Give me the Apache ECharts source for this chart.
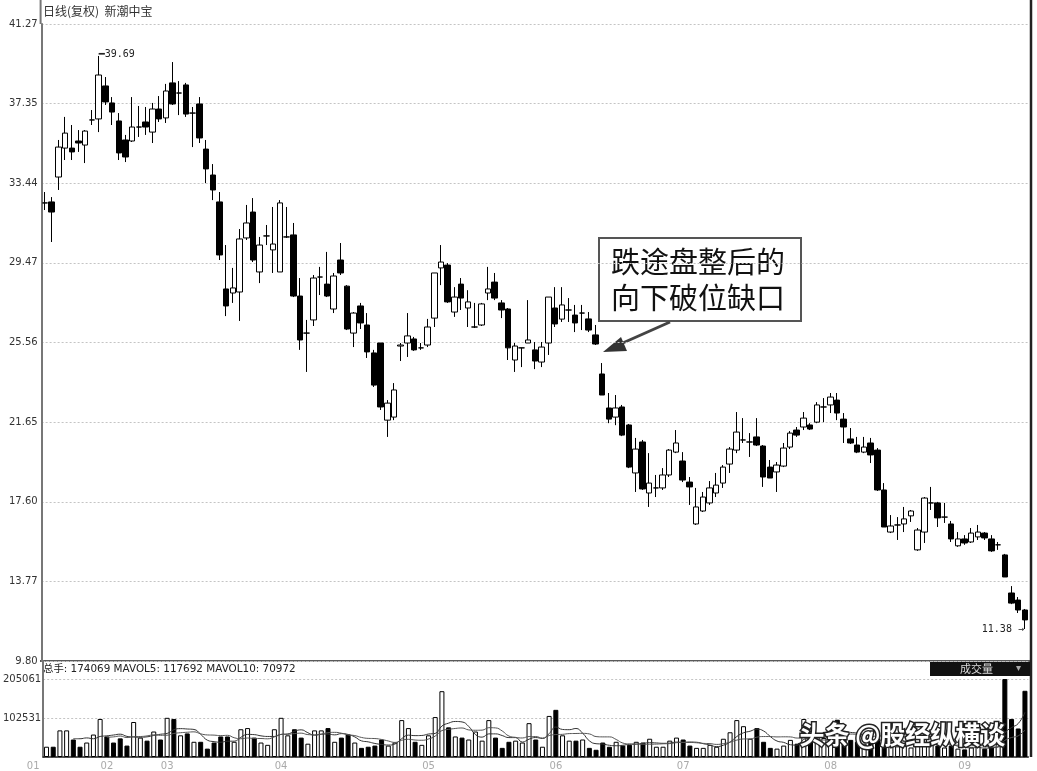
<!DOCTYPE html>
<html><head><meta charset="utf-8">
<script src="https://cdn.jsdelivr.net/npm/echarts@6/dist/echarts.min.js"></script>
<style>html,body{margin:0;padding:0;background:#fff}#c{width:1037px;height:771px}</style>
</head><body><div id="c"></div>
<script>
const priceTicks = ['9.80','13.77','17.60','21.65','25.56','29.47','33.44','37.35','41.27'];
const volTickLabels = ['102531','205061'];
const monthLabels = ['01','02','03','04','05','06','07','08','09'];
const monthStarts = [0,11,20,37,59,78,97,119,139];
const opens = [32.43,32.48,33.71,35.14,35.14,35.49,35.29,36.53,36.58,38.21,37.37,36.48,35.54,35.49,36.18,36.43,35.93,37.07,36.63,38.36,37.86,38.26,36.87,37.32,35.09,33.81,32.48,28.18,27.98,28.03,30.70,31.98,29.02,30.80,30.11,29.02,30.75,30.85,27.83,26.00,26.65,28.77,28.42,27.19,29.61,28.32,26.00,27.34,26.40,25.02,25.51,21.70,21.85,25.36,25.51,25.71,25.27,25.41,26.74,29.22,29.36,27.04,28.42,27.24,26.30,26.40,27.98,28.52,27.49,27.19,24.67,25.27,25.51,25.17,24.57,25.51,27.24,26.69,27.14,26.89,26.99,26.70,25.91,23.98,22.30,21.85,22.35,21.46,19.09,20.62,18.10,18.35,18.35,18.99,20.12,19.68,18.64,16.57,17.21,17.61,18.10,18.59,19.53,20.22,20.72,20.62,20.87,20.42,19.38,19.14,19.43,20.37,21.21,21.36,21.46,21.60,22.35,22.45,22.69,21.75,20.77,20.47,20.12,20.57,20.22,18.25,16.17,16.52,16.57,16.97,15.29,16.17,17.61,17.61,16.91,16.57,15.49,15.83,15.68,15.93,16.12,15.83,15.54,15.04,13.16,12.81,12.32];
const closes = [32.43,31.98,35.19,35.88,34.95,35.39,35.98,36.53,38.75,37.42,36.92,34.90,34.70,36.18,36.18,36.18,37.07,36.58,37.96,37.32,37.86,36.82,36.87,35.64,34.11,33.07,29.86,27.34,28.23,30.65,31.44,29.61,30.35,30.80,30.40,32.43,30.75,27.83,25.66,26.00,28.72,28.77,27.83,28.82,28.97,26.20,26.99,26.50,25.07,23.43,22.35,22.54,23.19,25.41,25.86,25.17,25.27,26.30,28.97,29.51,27.54,27.78,27.73,27.54,26.30,27.44,28.18,27.73,27.14,25.27,25.36,25.27,25.66,24.62,25.31,27.78,26.45,27.39,27.14,26.50,26.99,26.15,25.46,22.94,21.75,22.30,20.96,19.38,20.27,18.30,18.59,18.35,18.99,20.22,20.57,18.74,18.40,17.41,17.90,18.35,18.49,19.38,20.27,21.11,20.72,20.62,20.47,18.89,18.84,19.48,20.32,21.06,20.96,21.80,21.26,22.45,22.35,22.84,22.05,21.36,20.57,20.12,20.37,19.98,18.25,16.42,16.47,16.52,16.82,17.21,16.27,17.85,17.61,16.87,16.91,15.83,15.83,15.63,16.12,16.17,15.88,15.24,15.54,13.95,12.66,12.32,11.83];
const lows = [32.08,30.50,33.07,34.55,34.55,34.95,34.40,36.28,35.93,37.27,36.28,34.55,34.45,35.44,35.69,35.79,35.39,36.43,36.38,37.27,36.77,36.68,35.19,35.39,33.41,32.57,29.61,26.84,27.49,26.60,30.60,29.51,28.47,30.35,28.97,29.02,30.70,27.78,25.17,24.08,26.35,27.88,27.78,26.99,28.87,26.15,25.31,26.20,24.77,23.34,22.20,20.87,21.70,24.62,24.82,25.12,25.17,25.31,26.30,28.37,27.49,26.80,27.14,26.30,26.25,26.35,27.63,27.63,26.74,24.67,24.08,24.32,25.51,24.22,24.32,24.92,26.30,26.55,26.55,26.05,26.15,26.05,25.41,22.94,21.55,21.45,20.91,19.33,18.15,18.25,17.41,17.90,18.25,18.89,20.07,18.64,17.51,16.52,17.16,17.51,17.90,18.35,19.09,20.07,20.57,19.88,20.42,18.40,18.84,18.15,19.38,20.27,20.87,21.21,21.21,21.55,21.60,22.05,21.70,20.57,20.52,20.07,20.07,19.58,18.20,16.42,16.12,15.78,16.17,16.67,15.24,15.63,17.26,16.42,16.62,15.68,15.44,15.54,15.63,15.78,15.78,15.19,15.29,13.95,12.61,12.17,11.38];
const highs = [32.97,32.72,35.54,36.68,36.28,36.03,36.03,37.02,39.69,38.65,37.66,36.87,35.79,37.66,37.22,37.17,37.37,37.71,38.31,39.39,38.45,38.36,37.17,37.66,35.54,34.35,32.97,30.35,29.22,31.14,32.33,32.67,30.75,31.34,32.23,32.57,32.23,31.44,28.72,26.65,28.87,29.27,30.01,28.97,30.45,28.37,27.04,27.49,26.99,25.17,25.51,22.69,23.53,25.51,26.99,25.81,25.51,26.70,28.97,30.35,29.46,28.27,28.72,28.12,27.49,27.49,29.27,28.97,27.63,27.24,25.51,25.27,27.63,25.56,25.56,27.78,28.27,28.27,27.73,27.39,27.39,27.04,26.40,24.52,23.04,22.94,22.45,21.51,20.82,20.72,20.07,18.99,19.33,20.27,21.21,20.12,18.89,18.35,18.15,18.69,19.09,19.48,20.37,22.10,21.80,21.06,21.80,20.47,19.73,19.63,20.57,21.16,21.36,22.10,21.55,22.59,22.79,23.04,23.04,22.05,21.31,20.87,20.87,20.82,20.32,18.59,17.01,16.91,17.41,17.26,16.37,17.90,18.40,17.66,17.61,16.72,16.17,16.02,16.37,16.52,16.17,16.02,15.68,15.09,13.50,12.96,12.37];
const volumes = [27000,27000,70000,70000,46000,27000,38000,59000,100000,54000,38000,49000,30000,92000,51000,43000,67000,46000,103000,100000,57000,62000,40000,40000,22000,38000,54000,54000,40000,73000,76000,51000,38000,32000,73000,103000,57000,73000,51000,35000,70000,70000,76000,40000,51000,59000,38000,24000,27000,30000,46000,30000,38000,97000,76000,40000,32000,57000,105000,173000,78000,54000,51000,46000,67000,43000,97000,51000,24000,40000,43000,38000,89000,46000,27000,108000,124000,57000,43000,43000,46000,24000,19000,38000,27000,40000,30000,32000,40000,38000,48000,27000,27000,43000,51000,46000,30000,24000,24000,32000,27000,48000,65000,97000,81000,48000,76000,40000,24000,22000,30000,45000,35000,100000,40000,60000,50000,70000,98000,60000,45000,40000,35000,40000,55000,60000,30000,28000,30000,25000,35000,50000,35000,30000,25000,30000,22000,20000,25000,28000,22000,26000,34000,205000,100000,75000,174069];

const N = opens.length;
const cats = [];
for (let i = 0; i < N; i++) {
  let m = 0;
  for (let k = 0; k < monthStarts.length; k++) if (i >= monthStarts[k]) m = k;
  cats.push(monthLabels[m] + '-' + (i - monthStarts[m] + 1));
}
const kdata = opens.map((o, i) => [o, closes[i], lows[i], highs[i]]);
const vdata = volumes.map((v, i) => {
  const up = closes[i] >= opens[i];
  return { value: v, itemStyle: up ? { color: '#fff', borderColor: '#000', borderWidth: 1 } : { color: '#000', borderColor: '#000', borderWidth: 1 } };
});
function ma(n) {
  return volumes.map((v, i) => {
    if (i < n - 1) return '-';
    let s = 0; for (let k = i - n + 1; k <= i; k++) s += volumes[k];
    return s / n;
  });
}
const PMIN = 9.80, PMAX = 41.27, PINT = (41.27 - 9.80) / 8;
const VMAX = 252400, VINT = 102530.5;
const GL = 41.6, GW = 986.7;

const chart = echarts.init(document.getElementById('c'), null, { renderer: 'canvas' });
const fontF = '"DejaVu Sans", "Noto Sans CJK SC", sans-serif';
chart.setOption({
  animation: false,
  backgroundColor: '#fff',
  grid: [
    { left: GL, width: GW, top: 24, height: 637 },
    { left: GL, width: GW, top: 661, height: 96 }
  ],
  xAxis: [
    { type: 'category', gridIndex: 0, data: cats, boundaryGap: true, axisLine: { show: false }, axisTick: { show: false }, axisLabel: { show: false }, splitLine: { show: false } },
    { type: 'category', gridIndex: 1, data: cats, boundaryGap: true,
      axisLine: { show: true, lineStyle: { color: '#222', width: 1.5 } }, axisTick: { show: false },
      axisLabel: { interval: (idx) => monthStarts.indexOf(idx) >= 0,
        formatter: (val, idx) => { const k = monthStarts.indexOf(idx); return k >= 0 ? monthLabels[k] : ''; },
        color: '#aaa', fontSize: 10, fontFamily: fontF, margin: 4, align: 'right', padding: [0, 7, 0, 0] },
      splitLine: { show: false } }
  ],
  yAxis: [
    { type: 'value', gridIndex: 0, min: PMIN, max: PMAX, interval: PINT, scale: true,
      axisLine: { show: true, lineStyle: { color: '#777', width: 2 } }, axisTick: { show: false },
      axisLabel: { formatter: (v) => { const k = Math.round((v - PMIN) / PINT); return priceTicks[k] || ''; }, color: '#333', fontSize: 10, fontFamily: fontF, margin: 4 },
      splitLine: { show: true, lineStyle: { color: '#c4c4c4', type: [2, 2], width: 1 } } },
    { type: 'value', gridIndex: 1, min: 0, max: VMAX, interval: VINT,
      axisLine: { show: true, lineStyle: { color: '#777', width: 2 } }, axisTick: { show: false },
      axisLabel: { showMinLabel: false, showMaxLabel: false, formatter: (v) => { const k = Math.round(v / VINT); return (k === 1 || k === 2) ? volTickLabels[k - 1] : ''; }, color: '#333', fontSize: 10, fontFamily: fontF, margin: 2 },
      splitLine: { show: true, lineStyle: { color: '#c4c4c4', type: [2, 2], width: 1 } } }
  ],
  series: [
    { type: 'candlestick', xAxisIndex: 0, yAxisIndex: 0, data: kdata, barWidth: 6,
      itemStyle: { color: '#fff', color0: '#000', borderColor: '#000', borderColor0: '#000', borderWidth: 1 },
      markPoint: {
        symbol: 'circle', symbolSize: 0, animation: false,
        data: [
          { coord: [cats[8], 39.69], label: { show: true, position: 'right', distance: 0, offset: [0, -2], formatter: '━39.69', color: '#222', fontSize: 10, fontFamily: '"DejaVu Sans Mono", monospace' } },
          { coord: [cats[N - 1], 11.38], label: { show: true, position: 'left', distance: 1, formatter: '11.38 →', color: '#222', fontSize: 10, fontFamily: '"DejaVu Sans Mono", monospace' } }
        ]
      }
    },
    { type: 'bar', xAxisIndex: 1, yAxisIndex: 1, data: vdata, barWidth: 5 },
    { type: 'line', xAxisIndex: 1, yAxisIndex: 1, data: ma(5), symbol: 'none', smooth: true, lineStyle: { color: '#333', width: 1 } },
    { type: 'line', xAxisIndex: 1, yAxisIndex: 1, data: ma(10), symbol: 'none', smooth: true, lineStyle: { color: '#555', width: 1 } }
  ],
  graphic: [
    { type: 'line', shape: { x1: 40.6, y1: 0, x2: 40.6, y2: 24 }, style: { stroke: '#777', lineWidth: 2 } },
    { type: 'line', shape: { x1: 1031, y1: 0, x2: 1031, y2: 757 }, style: { stroke: '#222', lineWidth: 2.5 } },
    { type: 'line', shape: { x1: 40, y1: 661, x2: 1031, y2: 661 }, style: { stroke: '#222', lineWidth: 1.5 } },
    { type: 'text', left: 43, top: 5, style: { text: '日线(复权)  新潮中宝', fill: '#333', fontSize: 12, fontFamily: '"Noto Sans CJK SC", sans-serif' } },
    { type: 'text', left: 43, top: 664, style: { text: '总手: 174069 MAVOL5: 117692 MAVOL10: 70972', fill: '#222', fontSize: 10.4, fontFamily: fontF } },
    { type: 'rect', shape: { x: 930, y: 662, width: 100, height: 14 }, style: { fill: '#111' } },
    { type: 'text', left: 960, top: 663, style: { text: '成交量', fill: '#ddd', fontSize: 11, fontFamily: '"Noto Sans CJK SC", sans-serif' } },
    { type: 'text', left: 1016, top: 663, style: { text: '▾', fill: '#aaa', fontSize: 10 } },
    { type: 'rect', shape: { x: 599, y: 238, width: 202, height: 83 }, style: { fill: '#fff', stroke: '#555', lineWidth: 2 } },
    { type: 'text', left: 611, top: 247, style: { text: '跌途盘整后的', fill: '#111', fontSize: 29, fontFamily: '"Noto Sans CJK SC", sans-serif' } },
    { type: 'text', left: 611, top: 283, style: { text: '向下破位缺口', fill: '#111', fontSize: 29, fontFamily: '"Noto Sans CJK SC", sans-serif' } },
    { type: 'line', shape: { x1: 670, y1: 322, x2: 616, y2: 346 }, style: { stroke: '#444', lineWidth: 3 } },
    { type: 'polygon', shape: { points: [[603, 352], [621, 337], [627, 351]] }, style: { fill: '#333' } },
    { type: 'text', left: 798, top: 720, z: 100, style: { text: '头条 @股经纵横谈', fill: '#fff', stroke: '#222', lineWidth: 3, fontSize: 25, fontWeight: 'bold', fontFamily: '"Noto Sans CJK SC", sans-serif' } }
  ]
});
</script>
</body></html>
